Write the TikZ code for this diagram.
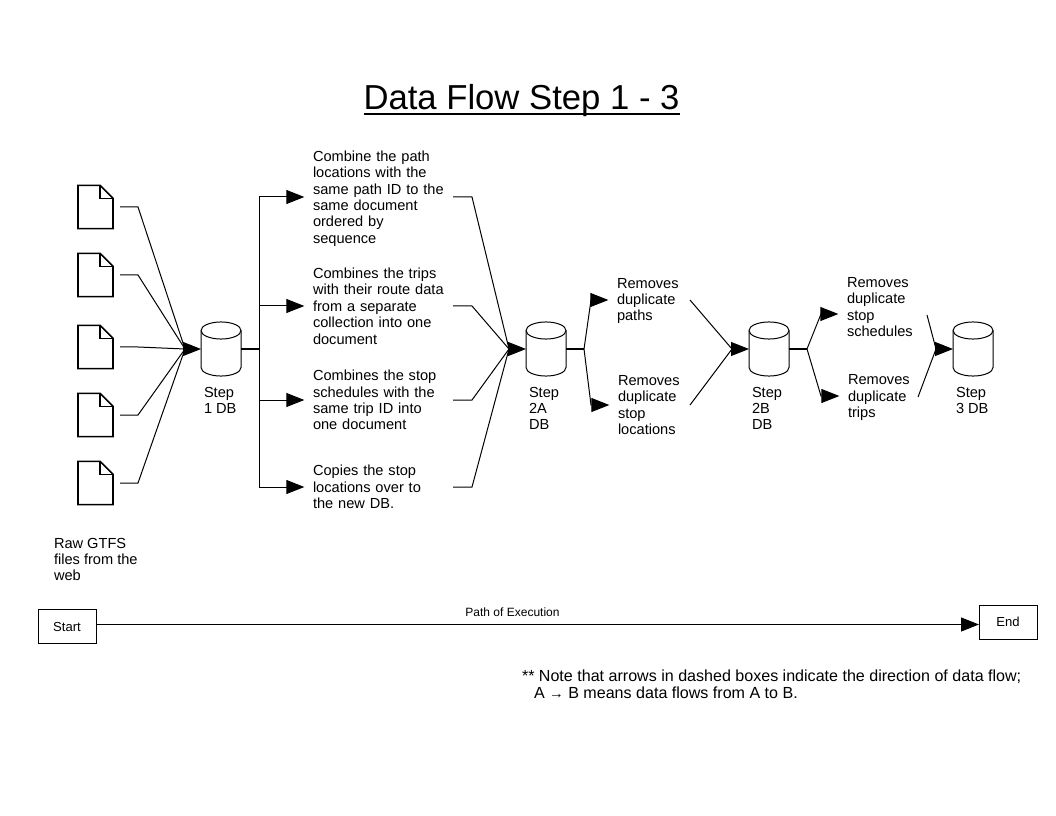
\documentclass[tikz,border=0pt]{standalone}
\usepackage{fontspec}
\setmainfont{Liberation Sans}
\usetikzlibrary{arrows.meta,calc}
\tikzset{
  x=0.75pt,y=-0.75pt,
  every path/.style={line width=0.75pt},
  flow/.style={-{Triangle[length=13.5pt,width=10.5pt]}},
  docicon/.style={minimum width=26.25pt,minimum height=32.5pt,inner sep=0pt,outer sep=0pt},
  docline/.style={line width=1.2pt,line join=miter},
  dbnode/.style={minimum width=30pt,minimum height=40.5pt,inner sep=0pt,outer sep=0pt},
  body/.style={inner sep=0pt,outer sep=0pt,align=left,font=\fontsize{10.95pt}{12.3pt}\selectfont},
  stepnote/.style={body,anchor=west},
  stepwide/.style={stepnote,text width=102pt},
  boxed/.style={draw,inner sep=0pt,outer sep=0pt,minimum width=43.5pt,minimum height=25.5pt,font=\fontsize{9.8pt}{11pt}\selectfont},
  gapstart/.style={shorten <=5.25pt},
  gapend/.style={shorten >=6.5pt}
}
\newcommand{\docshape}[1]{\draw[docline] (#1.south west) -- (#1.north west) -- ($(#1.north east)+(-13,0)$) -- ($(#1.north east)+(0,13)$) -- (#1.south east) -- cycle;
  \draw[docline] ($(#1.north east)+(-13,0)$) -- ($(#1.north east)+(-13,13)$) -- ($(#1.north east)+(0,13)$);}
\newcommand{\dbshape}[1]{\draw[fill=white] ($(#1.north west)+(0,8.5)$) -- ($(#1.south west)+(0,-8.5)$) arc[start angle=180,end angle=360,x radius=15pt,y radius=6.4pt] -- ($(#1.north east)+(0,8.5)$) arc[start angle=0,end angle=180,x radius=15pt,y radius=6.4pt] -- cycle;
  \draw ($(#1.north west)+(0,8.5)$) arc[start angle=180,end angle=360,x radius=15pt,y radius=6.4pt];}
\newcommand{\titleline}[1]{\setbox0\hbox{#1}\rlap{\rule[-4.2pt]{\wd0}{1.5pt}}\box0}
\begin{document}
\begin{tikzpicture}
\useasboundingbox (0,0) rectangle (1056,816);
\node[inner sep=0pt,font=\fontsize{26pt}{30pt}\selectfont] (title) at (521.5,100.5) {\titleline{Data Flow Step 1 - 3}};

% documents
\node[docicon] (d1) at (95.5,207) {}; \docshape{d1}
\node[docicon] (d2) at (95.5,275) {}; \docshape{d2}
\node[docicon] (d3) at (95.5,347) {}; \docshape{d3}
\node[docicon] (d4) at (95.5,415) {}; \docshape{d4}
\node[docicon] (d5) at (95.5,483) {}; \docshape{d5}
\node[body,anchor=north west] (raw) at (54,538) {Raw GTFS\\files from the\\web};

% databases
\node[dbnode] (db1) at (221,349) {}; \dbshape{db1}
\node[dbnode] (db2) at (546,349) {}; \dbshape{db2}
\node[dbnode] (db3) at (769,349) {}; \dbshape{db3}
\node[dbnode] (db4) at (973,349) {}; \dbshape{db4}
\node[body,anchor=north west] (l1) at (204,387) {Step\\1 DB};
\node[body,anchor=north west] (l2) at (529,387) {Step\\2A\\DB};
\node[body,anchor=north west] (l3) at (752,387) {Step\\2B\\DB};
\node[body,anchor=north west] (l4) at (956,387) {Step\\3 DB};

% step text
\node[stepwide] (t1) at (313,198.5) {Combine the path\\locations with the\\same path ID to the\\same document\\ordered by\\sequence};
\node[stepwide] (t2) at (313,306) {Combines the trips\\with their route data\\from a separate\\collection into one\\document};
\node[stepwide] (t3) at (313,400) {Combines the stop\\schedules with the\\same trip ID into\\one document};
\node[stepwide] (t4) at (313,487) {Copies the stop\\locations over to\\the new DB.};
\node[stepnote] (u1) at (617,301) {Removes\\duplicate\\paths};
\node[stepnote] (u2) at (618,405) {Removes\\duplicate\\stop\\locations};
\node[stepnote] (v1) at (847,307) {Removes\\duplicate\\stop\\schedules};
\node[stepnote] (v2) at (848,397.5) {Removes\\duplicate\\trips};

% junctions and free ends
\coordinate (jin1) at (185,349);
\coordinate (jin2) at (509,349);
\coordinate (jin3) at (732,349);
\coordinate (jin4) at (936,349);
\coordinate (jout1) at (259,349);
\coordinate (jout2) at (584,349);
\coordinate (jout3) at (807,349);
\coordinate (u1in) at (617,300);
\coordinate (u1out) at (690,300);
\coordinate (u2out) at (690,405);
\coordinate (v1in) at (847,314);
\coordinate (v2in) at (848,396);
\coordinate (v1out) at (927,315);
\coordinate (v2out) at (918,397);
\coordinate (t1in) at (313,197);
\coordinate (t1out) at (449,197);

% documents to DB1
\draw[gapstart] (d1.east) -- (138,207) -- (jin1);
\draw[gapstart] (d2.east) -- (138,275) -- (jin1);
\draw[gapstart] (d3.east) -- (138,347) -- (jin1);
\draw[gapstart] (d4.east) -- (138,415) -- (jin1);
\draw[gapstart] (d5.east) -- (138,483) -- (jin1);
\draw[flow] (jin1) -- (db1.west);

% DB1 to steps
\draw[line width=1.2pt] (db1.east) -- (jout1);
\draw[flow,gapend] (jout1) |- (t1in);
\draw[flow,gapend] (jout1) |- (t2.west);
\draw[flow,gapend] (jout1) |- (t3.west);
\draw[flow,gapend] (jout1) |- (t4.west);

% steps to DB2
\draw[shorten <=3pt] (t1out) -- (472,197) -- (jin2);
\draw[shorten <=3pt] (t2.east) -- (472,306) -- (jin2);
\draw[shorten <=3pt] (t3.east) -- (472,400) -- (jin2);
\draw[shorten <=3pt] (t4.east) -- (472,487) -- (jin2);
\draw[flow] (jin2) -- (db2.west);

% DB2 to DB3
\draw[line width=1pt] (db2.east) -- (jout2);
\draw[flow,gapend] (jout2) -- (591,300) -- (u1in);
\draw[flow,gapend] (jout2) -- (591,405) -- (u2.west);
\draw (u1out) -- (jin3);
\draw (u2out) -- (jin3);
\draw[flow] (jin3) -- (db3.west);

% DB3 to DB4
\draw[line width=1pt] (db3.east) -- (jout3);
\draw[flow,gapend] (jout3) -- (821,314) -- (v1in);
\draw[flow,gapend] (jout3) -- (821,396) -- (v2in);
\draw (v1out) -- (jin4);
\draw (v2out) -- (jin4);
\draw[flow] (jin4) -- (db4.west);

% execution path
\node[boxed] (start) at (67,626.5) {Start};
\node[boxed] (end) at (1008,622) {End};
\coordinate (pathstart) at (start.east |- 0,624.5);
\draw[flow] (pathstart) -- (end.west |- pathstart);
\node[inner sep=0pt,font=\fontsize{9pt}{10pt}\selectfont] (pathlabel) at (512.5,612.5) {Path of Execution};

% note
\node[body,anchor=west,font=\fontsize{12.05pt}{12pt}\selectfont] (note1) at (522,676.5) {** Note that arrows in dashed boxes indicate the direction of data flow;};
\node[body,anchor=west,font=\fontsize{12.05pt}{12pt}\selectfont] (note2) at (534,693) {A {\fontsize{11pt}{11pt}\selectfont →} B means data flows from A to B.};
\end{tikzpicture}
\end{document}
